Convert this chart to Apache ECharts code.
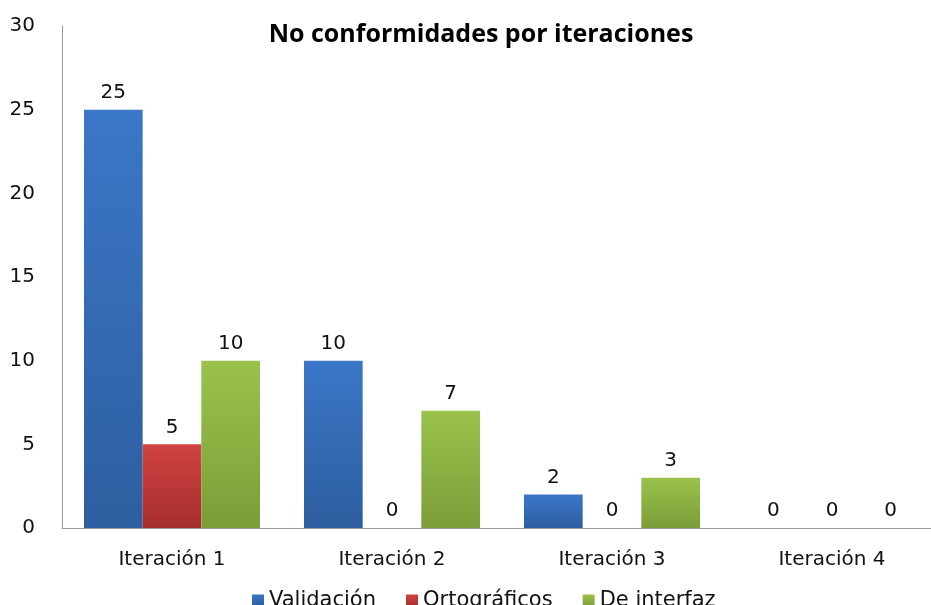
<!DOCTYPE html>
<html><head><meta charset="utf-8">
<script src="https://cdn.jsdelivr.net/npm/echarts@6/dist/echarts.min.js"></script>
<style>html,body{margin:0;padding:0;background:#fff}#c{width:931px;height:605px}</style>
</head><body><div id="c"></div>
<script>
const categories = ['Iteración 1', 'Iteración 2', 'Iteración 3', 'Iteración 4'];
const validacion = [25, 10, 2, 0];
const ortograficos = [5, 0, 0, 0];
const interfaz = [10, 7, 3, 0];
const yTicks = [0, 5, 10, 15, 20, 25, 30];

function grad(a, b) {
  return new echarts.graphic.LinearGradient(0, 0, 0, 1, [
    {offset: 0, color: a}, {offset: 1, color: b}
  ]);
}
const lbl = {show: true, position: 'top', distance: 7, color: '#111', fontSize: 20, fontFamily: 'DejaVu Sans'};
const chart = echarts.init(document.getElementById('c'));
chart.setOption({
  animation: false,
  title: {text: 'No conformidades por iteraciones', left: 476, textAlign: 'center', top: 17,
    textStyle: {fontSize: 25, fontWeight: 'bold', color: '#000', fontFamily: 'Open Sans'}},
  legend: {top: 585, left: 247, itemWidth: 12, itemHeight: 12, itemGap: 30,
    icon: 'rect',
    textStyle: {fontSize: 21, color: '#111', fontFamily: 'DejaVu Sans'}},
  grid: {left: 62, width: 880, top: 26, bottom: 77, containLabel: false, outerBoundsMode: 'none'},
  xAxis: {type: 'category', data: categories,
    axisLine: {lineStyle: {color: '#999'}}, axisTick: {show: false},
    axisLabel: {fontSize: 20, color: '#111', margin: 22, fontFamily: 'DejaVu Sans'}},
  yAxis: {type: 'value', min: yTicks[0], max: yTicks[yTicks.length - 1], interval: 5,
    axisLine: {show: true, lineStyle: {color: '#999'}}, axisTick: {show: false},
    splitLine: {show: false},
    axisLabel: {fontSize: 20, color: '#111', margin: 27, fontFamily: 'DejaVu Sans'}},
  series: [
    {name: 'Validación', type: 'bar', data: validacion, barGap: '0%', barCategoryGap: '20%',
      itemStyle: {color: grad('#3b77c7', '#2d5e9f')}, label: lbl},
    {name: 'Ortográficos', type: 'bar', data: ortograficos,
      itemStyle: {color: grad('#d04341', '#a52e2d')}, label: lbl},
    {name: 'De interfaz', type: 'bar', data: interfaz,
      itemStyle: {color: grad('#9ac24c', '#7b9d38')}, label: lbl}
  ]
});
</script></body></html>
